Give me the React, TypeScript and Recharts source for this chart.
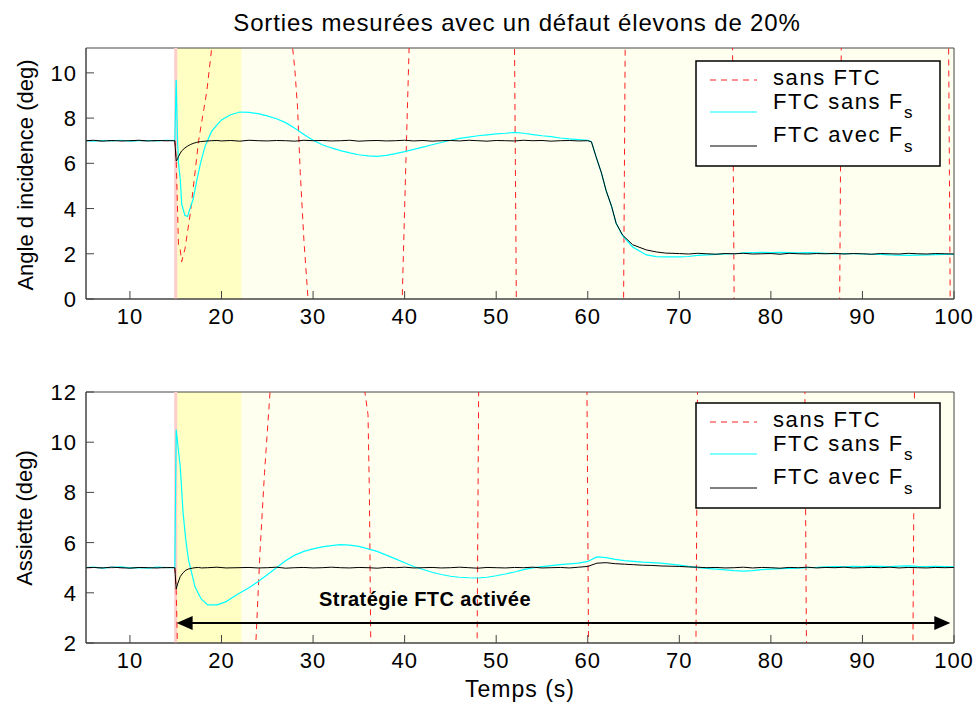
import React from 'react';
import { LineChart, Line, XAxis, YAxis, ReferenceArea, ReferenceLine } from 'recharts';

const POLICE = '"Liberation Sans", Arial, Helvetica, sans-serif';

// axe des temps (s)
const ticksX = [10, 20, 30, 40, 50, 60, 70, 80, 90, 100];
const ticksHaut = [0, 2, 4, 6, 8, 10];
const ticksBas = [2, 4, 6, 8, 10, 12];

// --- angle d'incidence ---
const tempsHaut = [
  5.2, 6, 7, 8, 9, 10, 11, 12, 13, 14,
  14.9, 15.05, 15.2, 15.3, 15.5, 15.65, 16, 16.3, 16.6, 16.9,
  17.3, 17.7, 18.2, 18.9, 19.5,
  20, 21, 22, 23, 24, 25, 26, 27, 28, 29,
  30, 31, 32, 33, 34, 35, 36, 37, 38, 39,
  40, 41, 42, 43, 44, 45, 46, 47, 48, 49,
  50, 51, 52, 53, 54, 55, 56, 57, 58, 59,
  60, 60.4, 60.9, 61.5, 62, 62.6, 63.1, 63.8, 64.9, 66.4,
  67.5, 68.5, 70, 71, 72, 73, 74, 75, 76, 77,
  78, 79, 80, 81, 82, 83, 84, 85, 86, 87,
  88, 89, 90, 91, 92, 93, 94, 95, 96, 97,
  98, 99, 100,
];
const incSansFs = [
  7.0, 6.98, 7.01, 6.99, 7.02, 6.98, 7.0, 7.01, 6.99, 7.02,
  7.0, 9.7, 7.0, 6.0, 5.27, 4.2, 3.7, 3.65, 4.05, 4.4,
  5.25, 6.0, 6.75, 7.4, 7.7,
  7.92, 8.15, 8.27, 8.25, 8.2, 8.1, 7.97, 7.8, 7.55, 7.28,
  7.02, 6.82, 6.68, 6.56, 6.46, 6.38, 6.33, 6.31, 6.35, 6.43,
  6.52, 6.62, 6.72, 6.82, 6.92, 7.02, 7.1, 7.16, 7.22, 7.26,
  7.3, 7.33, 7.37, 7.33, 7.27, 7.22, 7.18, 7.12, 7.08, 7.05,
  7.02, 6.96, 6.3, 5.57, 4.8, 4.1, 3.35, 2.8, 2.3, 1.95,
  1.87, 1.86, 1.86, 1.88, 1.93, 1.95, 1.97, 1.99, 2.0, 2.04,
  2.05, 2.06, 2.05, 2.06, 2.05, 2.04, 2.05, 2.04, 2.02, 2.0,
  2.01, 2.0, 1.99, 1.98, 1.97, 1.95, 1.94, 1.93, 1.94, 1.95,
  1.96, 1.97, 1.98,
];
const incAvecFs = [
  7.0, 7.02, 6.98, 7.01, 6.99, 7.0, 7.02, 6.99, 7.01, 7.0,
  7.0, 6.1, 6.2, 6.3, 6.45, 6.55, 6.68, 6.76, 6.83, 6.88,
  6.93, 6.96, 6.98, 7.0, 7.01,
  6.99, 7.01, 6.98, 7.02, 7.0, 6.99, 7.01, 7.0, 6.98, 7.02,
  7.0, 7.01, 6.99, 7.0, 7.02, 6.98, 7.0, 7.01, 6.99, 7.0,
  7.02, 6.99, 7.01, 6.98, 7.0, 7.01, 6.99, 7.02, 7.0, 6.98,
  7.01, 7.0, 6.99, 7.02, 7.0, 7.01, 6.98, 7.0, 7.01, 6.99,
  7.0, 6.95, 6.3, 5.57, 4.8, 4.1, 3.35, 2.83, 2.4, 2.17,
  2.08, 2.03, 2.01, 1.99, 2.02, 2.0, 1.98, 2.01, 2.0, 2.02,
  1.99, 2.0, 2.01, 1.98, 2.02, 2.0, 1.99, 2.01, 2.0, 2.02,
  1.99, 2.01, 2.0, 1.98, 2.01, 2.0, 1.99, 2.02, 2.0, 1.99,
  2.01, 2.0, 1.99,
];
// sans FTC : divergence, sort largement du cadre
const tempsRougeHaut = [
  5.2, 14.9, 15.05, 15.3, 15.45, 15.65, 16.0, 16.6, 17.5, 18.4,
  18.9, 19.3, 23.3, 27.4, 28.0, 28.3, 28.6, 29.0, 29.5, 34.6,
  39.7, 40.1, 40.5, 46.2, 52.0, 52.2, 52.4, 58.1, 63.9, 64.0,
  64.1, 69.9, 75.8, 75.9, 76.0, 81.7, 87.5, 87.6, 87.7, 93.5,
  99.4, 99.5, 99.6, 100,
];
const incSansFTC = [
  7.0, 7.0, 6.2, 2.4, 2.3, 1.65, 2.2, 3.8, 7.0, 9.2,
  11.0, 12.5, 60, 12.5, 10.2, 8.5, 5.6, 2.6, -0.3, -60,
  -0.5, 5.5, 11.3, 80, 11.3, 0, -1.5, -90, -1, 5.5,
  12, 100, 12, 5.5, -1, -100, -1, 5.5, 12, 110,
  12, 5.5, -1, -20,
];

// --- assiette ---
const tempsBas = [
  5.2, 6, 7, 8, 9, 10, 11, 12, 13, 14,
  14.9, 15.05, 15.2, 15.5, 15.8, 16.1, 16.4, 16.8, 17.1, 17.5,
  17.8, 18.5, 19.5, 20.5, 21.8,
  23, 24, 25, 26, 27, 28, 29, 30, 31, 32,
  33, 34, 35, 36, 37, 38, 39, 40, 41, 42,
  43, 44, 45, 46, 47, 48, 49, 50, 51, 52,
  53, 54, 55, 56, 57, 58, 59, 60, 61, 62,
  63, 64, 65, 66, 67, 68, 69, 70, 71, 72,
  73, 74, 75, 76, 77, 78, 79, 80, 81, 82,
  83, 84, 85, 86, 87, 88, 89, 90, 91, 92,
  93, 94, 95, 96, 97, 98, 99, 100,
];
const assSansFs = [
  5.0, 5.02, 4.98, 5.01, 5.03, 4.99, 5.0, 4.98, 5.02, 5.0,
  5.0, 10.5, 10.0, 9.0, 7.2, 6.1, 5.3, 4.7, 4.25, 3.95,
  3.75, 3.52, 3.52, 3.65, 3.95,
  4.2, 4.45, 4.72, 5.0, 5.28, 5.5, 5.65, 5.75, 5.83, 5.88,
  5.92, 5.9, 5.85, 5.75, 5.65, 5.5, 5.35, 5.2, 5.05, 4.93,
  4.82, 4.73, 4.66, 4.62, 4.6, 4.59, 4.62, 4.68, 4.75, 4.83,
  4.92, 4.99, 5.04, 5.08, 5.12, 5.15, 5.18, 5.25, 5.43, 5.4,
  5.33, 5.28, 5.25, 5.22, 5.2, 5.18, 5.14, 5.1, 5.05, 5.0,
  4.97, 4.94, 4.91, 4.88, 4.86, 4.88, 4.92, 4.94, 4.96, 4.97,
  4.98, 5.0, 5.01, 5.03, 5.04, 5.03, 5.05, 5.04, 5.06, 5.05,
  5.04, 5.06, 5.07, 5.05, 5.04, 5.05, 5.04, 5.03,
];
const assAvecFs = [
  5.0, 5.01, 4.99, 5.02, 5.0, 4.98, 5.01, 5.0, 4.99, 5.01,
  5.0, 4.15, 4.35, 4.65, 4.8, 4.9, 4.95, 4.98, 5.0, 5.01,
  4.99, 5.0, 5.02, 4.99, 5.0,
  5.01, 4.99, 5.0, 5.02, 4.98, 5.0, 5.01, 4.99, 5.0, 5.02,
  5.0, 4.99, 5.01, 5.0, 4.98, 5.01, 5.0, 5.02, 4.99, 5.0,
  5.01, 4.99, 5.0, 5.02, 5.0, 4.98, 5.01, 5.0, 4.99, 5.01,
  5.0, 5.02, 4.99, 5.0, 5.01, 4.99, 5.02, 5.05, 5.18, 5.2,
  5.16, 5.14, 5.12, 5.1, 5.09, 5.07, 5.06, 5.05, 5.03, 5.02,
  5.0, 5.01, 4.99, 5.0, 5.02, 4.99, 5.01, 5.0, 4.98, 5.01,
  5.0, 5.02, 4.99, 5.01, 5.0, 5.02, 4.99, 5.0, 5.01, 5.0,
  5.02, 4.99, 5.01, 5.0, 4.99, 5.01, 5.0, 5.01,
];
const tempsRougeBas = [
  5.2, 14.9, 15.05, 15.15, 15.3, 19.5, 23.6, 23.75, 24.2, 24.7,
  25.3, 25.6, 30.5, 35.4, 35.66, 36.0, 36.15, 36.3, 36.4, 42.1,
  47.9, 48.0, 48.1, 54.0, 59.9, 60.0, 60.1, 66.0, 71.8, 71.9,
  72.0, 77.9, 83.7, 83.8, 83.9, 89.7, 95.5, 95.6, 95.7, 100,
];
const assSansFTC = [
  5.0, 5.0, 4.1, 2.5, 0, -40, 1.5, 2.0, 5.6, 8.8,
  12.0, 14, 50, 13, 12, 11.1, 8, 2, 0, -50,
  1, 7, 13, 70, 13, 7, 1, -80, 1, 7,
  13, 90, 13, 7, 1, -100, 1, 7, 13, 60,
];

const debutFTC = 15;
const finZoneJaune = 22.2;
const flecheY = 2.8;

const serie = (t: number[], v: number[]) => t.map((x, i) => ({ t: x, v: v[i] }));

const XTick = ({ x, y, payload }: any) => (
  <g>
    <line x1={x} y1={y} x2={x} y2={y - 8} stroke="#444" />
    <text x={x} y={y + 25} textAnchor="middle" fontSize={22} fontFamily={POLICE} fill="#000" letterSpacing={1}>
      {payload.value}
    </text>
  </g>
);

const YTick = ({ x, y, payload }: any) => (
  <g>
    <line x1={x} y1={y} x2={x + 8} y2={y} stroke="#444" />
    <text x={x - 9} y={y + 8} textAnchor="end" fontSize={22} fontFamily={POLICE} fill="#000" letterSpacing={1}>
      {payload.value}
    </text>
  </g>
);

const Fleche = (props: any) => {
  const { x1, y1, x2 } = props;
  return (
    <g>
      <line x1={x1 + 12} y1={y1} x2={x2 - 12} y2={y1} stroke="#000" strokeWidth={2} />
      <polygon points={`${x1},${y1} ${x1 + 16},${y1 - 7} ${x1 + 16},${y1 + 7}`} fill="#000" />
      <polygon points={`${x2},${y1} ${x2 - 16},${y1 - 7} ${x2 - 16},${y1 + 7}`} fill="#000" />
    </g>
  );
};

function Graphe({ rouge, cyan, noir, yDomain, yTicks, height, top, fleche }: any) {
  return (
    <div style={{ position: 'absolute', left: 0, top }}>
      <LineChart width={976} height={height} margin={{ top: 392 - 350, right: 22, bottom: 0, left: 0 }}>
        <XAxis
          type="number"
          dataKey="t"
          domain={[5.2, 100]}
          allowDataOverflow
          ticks={ticksX}
          tick={<XTick />}
          tickLine={false}
          tickSize={0}
          tickMargin={0}
          height={36}
          axisLine={{ stroke: '#444' }}
        />
        <YAxis
          type="number"
          domain={yDomain}
          allowDataOverflow
          ticks={yTicks}
          tick={<YTick />}
          tickLine={false}
          tickSize={0}
          tickMargin={0}
          width={86}
          axisLine={{ stroke: '#444' }}
        />
        <ReferenceArea x1={debutFTC} x2={finZoneJaune} fill="#ffffc4" fillOpacity={1} />
        <ReferenceArea x1={finZoneJaune} x2={100} fill="#fffff0" fillOpacity={1} />
        <ReferenceLine x={debutFTC} stroke="#ffcccc" strokeWidth={3} />
        <ReferenceArea x1={5.2} x2={100} y1={yDomain[0]} y2={yDomain[1]} fill="none" stroke="#444" />
        <Line data={rouge} dataKey="v" type="linear" stroke="#ff2020" strokeWidth={1} strokeDasharray="6 5" dot={false} isAnimationActive={false} />
        <Line data={cyan} dataKey="v" type="linear" stroke="#00ffff" strokeWidth={1.2} dot={false} isAnimationActive={false} />
        <Line data={noir} dataKey="v" type="linear" stroke="#000000" strokeWidth={1} dot={false} isAnimationActive={false} />
        {fleche && (
          <ReferenceLine
            segment={[{ x: 15.1, y: flecheY }, { x: 99.6, y: flecheY }]}
            shape={<Fleche />}
          />
        )}
      </LineChart>
    </div>
  );
}

const Legende = ({ y }: { y: number }) => (
  <g fontFamily={POLICE} fontSize={22} fill="#000" letterSpacing={1.6}>
    <rect x={696} y={y} width={244} height={105} fill="#fff" stroke="#000" strokeWidth={1.5} />
    <line x1={710} y1={y + 19} x2={757} y2={y + 19} stroke="#ff2020" strokeDasharray="6 5" />
    <text x={773} y={y + 24}>sans FTC</text>
    <line x1={710} y1={y + 51} x2={757} y2={y + 51} stroke="#00ffff" strokeWidth={1.2} />
    <text x={773} y={y + 48}>
      FTC sans F<tspan fontSize={17} dy={9}>s</tspan>
    </text>
    <line x1={710} y1={y + 85} x2={757} y2={y + 85} stroke="#000" />
    <text x={773} y={y + 81}>
      FTC avec F<tspan fontSize={17} dy={10}>s</tspan>
    </text>
  </g>
);

export default function App() {
  return (
    <div style={{ position: 'absolute', left: 0, top: 0, width: 976, height: 702, background: '#fff', fontFamily: POLICE }}>
      <Graphe
        top={6}
        height={335 - 6}
        rouge={serie(tempsRougeHaut, incSansFTC)}
        cyan={serie(tempsHaut, incSansFs)}
        noir={serie(tempsHaut, incAvecFs)}
        yDomain={[0, 11.1]}
        yTicks={ticksHaut}
      />
      <Graphe
        top={350}
        height={679 - 350}
        rouge={serie(tempsRougeBas, assSansFTC)}
        cyan={serie(tempsBas, assSansFs)}
        noir={serie(tempsBas, assAvecFs)}
        yDomain={[2, 12]}
        yTicks={ticksBas}
        fleche
      />
      <svg width={976} height={702} style={{ position: 'absolute', left: 0, top: 0, pointerEvents: 'none' }}>
        <text x={517} y={31} textAnchor="middle" fontSize={24} fontFamily={POLICE} letterSpacing={0.85}>
          Sorties mesurées avec un défaut élevons de 20%
        </text>
        <text transform="translate(33,175) rotate(-90)" textAnchor="middle" fontSize={22} fontFamily={POLICE}>
          Angle d incidence (deg)
        </text>
        <text transform="translate(32,518) rotate(-90)" textAnchor="middle" fontSize={22} fontFamily={POLICE}>
          Assiette (deg)
        </text>
        <text x={520} y={697} textAnchor="middle" fontSize={23} fontFamily={POLICE} letterSpacing={1}>
          Temps (s)
        </text>
        <text x={425} y={606} textAnchor="middle" fontSize={20} fontWeight="bold" fontFamily={POLICE} letterSpacing={0.4}>
          Stratégie FTC activée
        </text>
        <Legende y={61} />
        <Legende y={403} />
      </svg>
    </div>
  );
}
